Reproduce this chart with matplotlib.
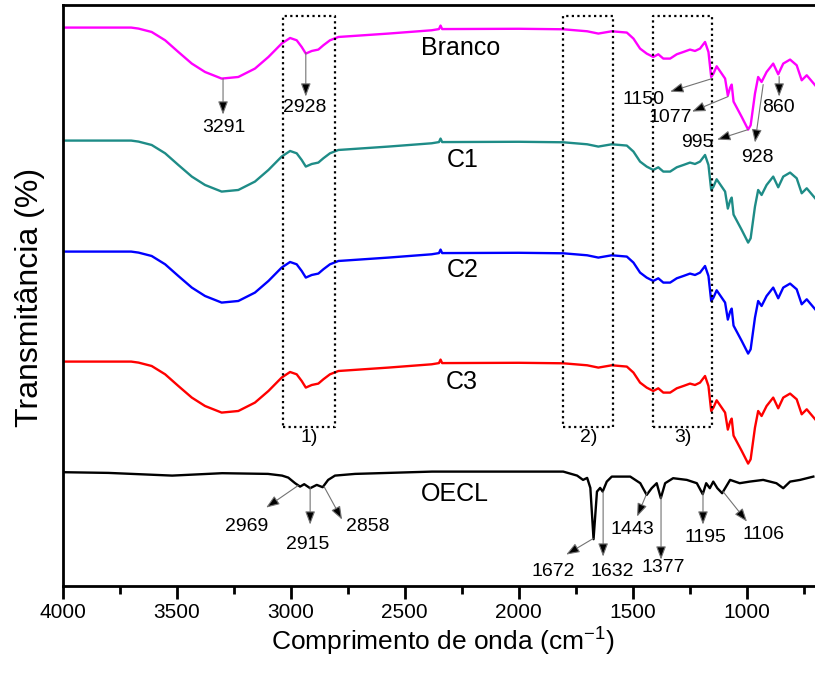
import matplotlib.pyplot as plt

plt.rcParams['font.family'] = ['Liberation Sans', 'DejaVu Sans']

# perfil comum das amostras (Branco, C1, C2, C3): numero de onda e profundidade da banda (u.a.)
wn_amostra = [4000, 3700, 3668, 3610, 3551, 3493, 3434, 3376, 3303, 3230, 3157, 3098,
              3040, 3003, 2974, 2952, 2934, 2908, 2879, 2857, 2828, 2791, 2572, 2382,
              2350, 2343, 2336, 2000, 1805, 1700, 1651, 1592, 1526, 1497, 1468, 1439,
              1410, 1388, 1366, 1336, 1307, 1278, 1249, 1227, 1205, 1183, 1168, 1156,
              1146, 1132, 1110, 1095, 1083, 1073, 1066, 1058, 1022, 994, 983, 964,
              950, 935, 913, 884, 862, 840, 810, 781, 759, 737, 700]
dep_amostra = [0, 0, 1, 4.4, 12.7, 24.4, 36, 44.4, 51, 49.4, 41, 29.4,
               16, 10.4, 12.7, 19.4, 26, 23.4, 22, 17.7, 12.7, 9.4, 6, 2.7,
               1.5, -2, 1.5, 1.2, 1.7, 3.7, 6, 3.7, 5, 11, 21, 26,
               29.4, 26.7, 31, 31, 26.7, 24.4, 22, 23.4, 21, 14.4, 24.4, 49.4,
               46, 38.7, 46, 51, 68, 60, 57, 74, 89.4, 102, 97.7, 66,
               49.4, 54.4, 44.4, 36, 46.7, 36, 32, 37.7, 52.7, 47.7, 57.7]

amostras = ['Branco', 'C1', 'C2', 'C3']
linha_base = [558, 445, 334, 224]

# oleo essencial (OECL)
wn_oecl = [4000, 3800, 3520, 3301, 3100, 3038, 3011, 2981, 2959, 2941, 2915, 2886,
           2860, 2836, 2806, 2718, 2380, 1805, 1744, 1718, 1700, 1686, 1672, 1657,
           1643, 1632, 1614, 1592, 1511, 1467, 1439, 1417, 1395, 1377, 1358, 1323,
           1263, 1219, 1193, 1178, 1162, 1147, 1129, 1108, 1073, 1031, 987, 928,
           870, 840, 810, 766, 708]
t_oecl = [113.4, 112.7, 110, 112.4, 111.7, 110, 108, 102.4, 99, 101.4, 97.4, 100.7,
          98.4, 105.7, 110, 111.7, 114, 114, 110, 105.7, 107.7, 97.7, 46.4, 94,
          97.7, 94, 104, 109, 109, 102.4, 90.7, 97.4, 102.4, 87.4, 102.4, 107.4,
          105.7, 102.4, 91.4, 102.4, 97.4, 104, 97.4, 92.4, 105.7, 102.4, 104, 105.7,
          102.4, 97.4, 104, 105.7, 109]

cores = {'Branco': '#ff00ff', 'C1': '#1e8c87', 'C2': '#0000ff', 'C3': '#ff0000', 'OECL': 'black'}

fig = plt.figure(figsize=(8.15, 6.77), dpi=100)
ax = fig.add_axes([0.077, 0.135, 0.9232, 0.8578])

for nome, base in zip(amostras, linha_base):
    y = [base - d for d in dep_amostra]
    ax.plot(wn_amostra, y, color=cores[nome], lw=1.7)
ax.plot(wn_oecl, t_oecl, color=cores['OECL'], lw=1.7)

# nomes das curvas
ax.text(2257, 538, 'Branco', fontsize=18, ha='center', va='center')
ax.text(2248, 426, 'C1', fontsize=18, ha='center', va='center')
ax.text(2248, 316, 'C2', fontsize=18, ha='center', va='center')
ax.text(2248, 204, 'C3', fontsize=18, ha='center', va='center')
ax.text(2279, 92, 'OECL', fontsize=18, ha='center', va='center')

# regioes destacadas
regioes = [(3035, 2806, '1)'), (1804, 1585, '2)'), (1410, 1153, '3)')]
for x1, x2, rot in regioes:
    ax.plot([x1, x2, x2, x1, x1], [159, 159, 570, 570, 159], ls=(0, (1, 1.5)), color='black', lw=1.6)
    ax.text((x1 + x2) / 2, 148, rot, fontsize=14, ha='center', va='center')

# bandas marcadas: rotulo, posicao do texto, inicio da seta, ponta da seta
picos = [
    ('3291', (3293, 458), (3297, 507), (3297, 471)),
    ('2928', (2937, 478), (2934, 533), (2934, 489)),
    ('1150', (1455, 486), (1152, 507), (1336, 494)),
    ('1077', (1336, 468), (1082, 489), (1240, 474)),
    ('995', (1218, 443), (994, 456), (1130, 446)),
    ('928', (955, 428), (928, 501), (964, 443)),
    ('860', (863, 478), (858, 509), (858, 489)),
    ('2969', (3192, 59), (2968, 100), (3108, 78)),
    ('2915', (2924, 41), (2915, 98), (2915, 61)),
    ('2858', (2661, 59), (2854, 99), (2775, 66)),
    ('1672', (1850, 14), (1674, 47), (1792, 31)),
    ('1632', (1591, 14), (1630, 94), (1630, 29)),
    ('1443', (1503, 56), (1437, 93), (1481, 69)),
    ('1377', (1367, 18), (1376, 89), (1376, 26)),
    ('1195', (1183, 48), (1192, 93), (1192, 61)),
    ('1106', (928, 51), (1104, 94), (999, 64)),
]
for rot, pt, ini, fim in picos:
    ax.annotate('', xy=fim, xytext=ini,
                arrowprops=dict(arrowstyle='-|>,head_length=0.4,head_width=0.15',
                                edgecolor='0.45', facecolor='black',
                                lw=0.8, mutation_scale=20, shrinkA=0, shrinkB=0))
    ax.text(pt[0], pt[1], rot, fontsize=14, ha='center', va='center')

ax.set_xlim(4000, 700)
ax.set_ylim(0, 580.7)
ax.set_xticks([4000, 3500, 3000, 2500, 2000, 1500, 1000])
ax.set_xticks([3750, 3250, 2750, 2250, 1750, 1250, 750], minor=True)
ax.set_yticks([])
ax.tick_params(axis='x', which='major', length=9, width=2, labelsize=15, direction='out')
ax.tick_params(axis='x', which='minor', length=6, width=2, direction='out')
for s in ['top', 'bottom', 'left']:
    ax.spines[s].set_linewidth(2)
ax.spines['right'].set_visible(False)

ax.set_xlabel('Comprimento de onda (cm$^{\\mathregular{-1}}$)', fontsize=19)
ax.set_ylabel('Transmitância (%)', fontsize=23)
ax.xaxis.set_label_coords(0.505, -0.066)
ax.yaxis.set_label_coords(-0.024, 0.497)

fig.savefig('out.png', dpi=100)
